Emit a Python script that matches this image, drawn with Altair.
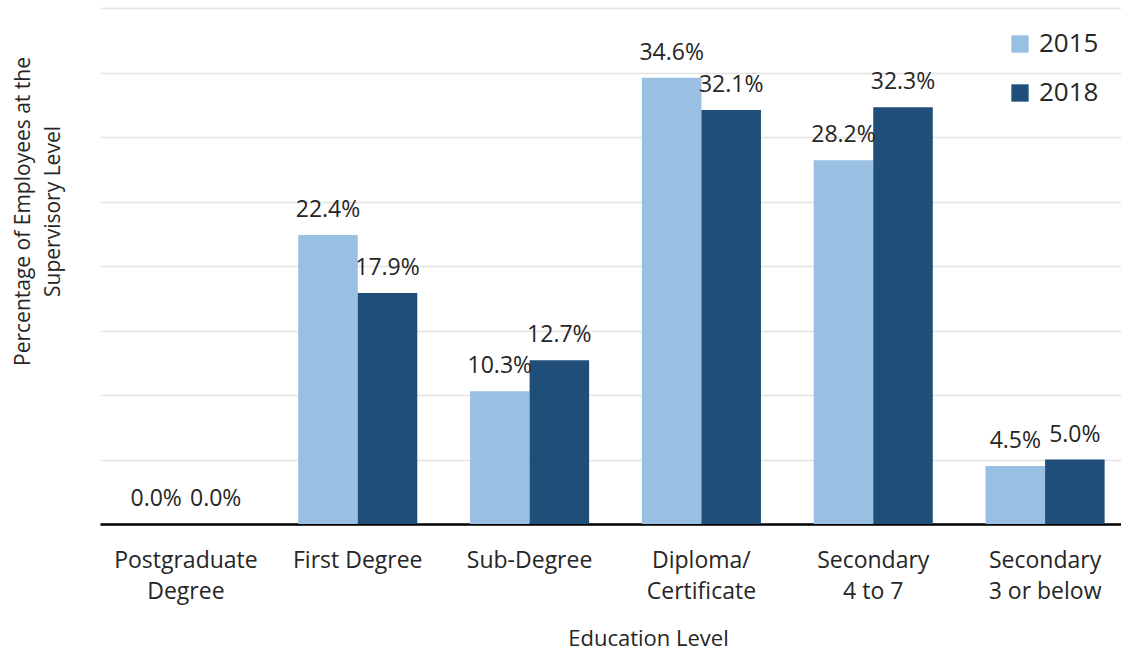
import altair as alt
import pandas as pd

# Share of supervisory-level employees by education level, 2015 vs 2018
label_lines = [
    ["Postgraduate", "Degree"],
    ["First Degree"],
    ["Sub-Degree"],
    ["Diploma/", "Certificate"],
    ["Secondary", "4 to 7"],
    ["Secondary", "3 or below"],
]
categories = ["\n".join(parts) for parts in label_lines]
years = ["2015", "2018"]
values_2015 = [0.0, 22.4, 10.3, 34.6, 28.2, 4.5]
values_2018 = [0.0, 17.9, 12.7, 32.1, 32.3, 5.0]
colors = ["#99bfe3", "#1f4e79"]

rows = []
for cat, a, b in zip(categories, values_2015, values_2018):
    rows.append({"category": cat, "year": years[0], "value": a})
    rows.append({"category": cat, "year": years[1], "value": b})
df = pd.DataFrame(rows)

FONT = "Open Sans"
TEXT = "#262626"

x_enc = alt.X(
    "category:N",
    sort=categories,
    scale=alt.Scale(range=[0, 1031], paddingInner=0.307, paddingOuter=0.1535),
    axis=alt.Axis(
        title="Education Level",
        labelExpr="split(datum.label, '\\n')",
        labelAngle=0,
        labelFont=FONT,
        labelFontSize=23,
        labelColor=TEXT,
        labelLineHeight=31,
        labelPadding=25,
        ticks=False,
        domainColor="#000000",
        domainWidth=2.5,
        titleFont=FONT,
        titleFontSize=22,
        titleFontWeight="normal",
        titleColor=TEXT,
        titleX=548,
        titleY=114,
        titleAlign="center",
        titleBaseline="middle",
    ),
)
xoff_enc = alt.XOffset("year:N", sort=years, scale=alt.Scale(paddingInner=0, paddingOuter=0))
y_enc = alt.Y(
    "value:Q",
    scale=alt.Scale(domain=[0, 40], nice=False),
    axis=alt.Axis(
        title=["Percentage of Employees at the", "Supervisory Level"],
        values=[0, 5, 10, 15, 20, 25, 30, 35, 40],
        labels=False,
        ticks=False,
        domain=False,
        gridColor="#e3e3e3",
        gridWidth=1.3,
        titleFont=FONT,
        titleFontSize=21,
        titleFontWeight="normal",
        titleColor=TEXT,
        titleAngle=-90,
        titleX=-77,
        titleY=203,
        titleAlign="center",
        titleBaseline="middle",
        titleLineHeight=30,
    ),
)

base = alt.Chart(df).encode(x=x_enc, xOffset=xoff_enc, y=y_enc)

bars = base.mark_bar().encode(
    color=alt.Color(
        "year:N",
        sort=years,
        scale=alt.Scale(domain=years, range=colors),
        legend=alt.Legend(
            title=None,
            orient="none",
            legendX=907,
            legendY=23,
            symbolType="square",
            symbolSize=300,
            symbolStrokeWidth=0,
            labelFont=FONT,
            labelFontSize=26,
            labelColor=TEXT,
            labelOffset=6,
            rowPadding=23,
            padding=0,
        ),
    )
)

labels = base.transform_calculate(
    label="format(datum.value, '.1f') + '%'"
).mark_text(
    font=FONT, fontSize=23, color=TEXT, baseline="alphabetic", dy=-18
).encode(text="label:N")

chart = (
    alt.layer(bars, labels)
    .properties(
        width=1021,
        height=516,
        autosize=alt.AutoSizeParams(type="none"),
        padding={"left": 100, "top": 8, "right": 0, "bottom": 126},
    )
    .configure_view(stroke=None)
)

chart.save("out.html", embed_options={"renderer": "svg", "actions": False})
